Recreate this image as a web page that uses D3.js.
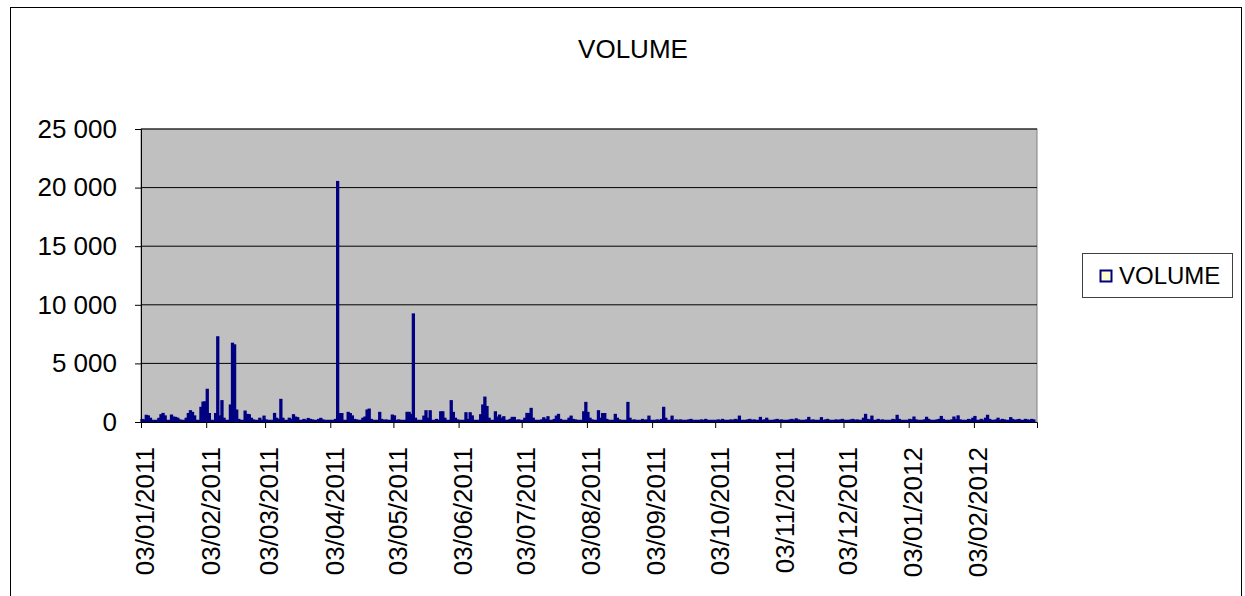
<!doctype html>
<html lang="en">

<head>
    <meta charset="utf-8">
    <script src="https://d3js.org/d3.v7.min.js"></script>
    <style>
        body { margin: 0; background: #fff; }
        text { font-family: "Liberation Sans", Arial, sans-serif; fill: #000; }
    </style>
</head>

<body>
    <div id="my_dataviz"></div>
    <script>
        // daily volume, one value per weekday of each month
        var vol2011_01 = [200, 150, 550, 500, 300, 100, 290, 600, 710, 500, 570, 400, 370, 300, 150, 300, 700, 940, 800, 500, 1230];
        var vol2011_02 = [1680, 1700, 2770, 700, 700, 7250, 500, 1800, 300, 1430, 6700, 6560, 1000, 200, 910, 630, 600, 300, 150, 300];
        var vol2011_03 = [100, 480, 150, 50, 710, 300, 200, 1910, 300, 300, 200, 600, 400, 350, 200, 100, 280, 200, 150, 200, 290, 150, 100];
        var vol2011_04 = [100, 100, 200, 20500, 700, 700, 800, 700, 500, 200, 150, 300, 400, 1000, 1080, 200, 0, 800, 200, 100, 150];
        var vol2011_05 = [570, 500, 100, 150, 100, 800, 800, 630, 9200, 300, 100, 480, 940, 300, 940, 200, 100, 850, 850, 300, 1800, 800];
        var vol2011_06 = [300, 150, 50, 770, 200, 770, 500, 100, 600, 1430, 2100, 1300, 300, 850, 400, 570, 300, 430, 200, 370, 370, 100];
        var vol2011_07 = [150, 300, 710, 700, 1140, 300, 100, 150, 340, 200, 430, 200, 480, 630, 200, 100, 300, 480, 200, 150, 100];
        var vol2011_08 = [850, 1650, 800, 300, 150, 940, 300, 700, 700, 200, 100, 630, 300, 150, 100, 1650, 300, 100, 150, 100, 200, 100, 150];
        var vol2011_09 = [480, 100, 150, 100, 200, 1230, 300, 480, 100, 150, 100, 150, 100, 150, 200, 100, 50, 150, 100, 200, 100, 50];
        var vol2011_10 = [100, 150, 100, 200, 100, 150, 100, 200, 150, 480, 100, 150, 200, 100, 150, 370, 100, 150, 300, 100, 150];
        var vol2011_11 = [200, 100, 150, 100, 150, 200, 100, 250, 150, 100, 150, 370, 100, 150, 100, 350, 100, 150, 200, 100, 150, 100];
        var vol2011_12 = [150, 200, 100, 150, 200, 100, 150, 300, 630, 200, 150, 480, 200, 100, 150, 100, 100, 200, 150, 550, 200, 100];
        var vol2012_01 = [100, 200, 150, 400, 150, 100, 150, 380, 200, 100, 150, 200, 450, 200, 100, 150, 400, 200, 500, 150, 100, 200];
        var vol2012_02 = [150, 300, 450, 200, 100, 300, 550, 200, 150, 300, 100, 200, 150, 350, 200, 100, 150, 200, 200, 150, 100];
        var vol2012_03 = [200, 150];

        var monthStarts = ["01/01/2011", "01/02/2011", "01/03/2011", "01/04/2011", "01/05/2011", "01/06/2011", "01/07/2011",
            "01/08/2011", "01/09/2011", "01/10/2011", "01/11/2011", "01/12/2011", "01/01/2012", "01/02/2012", "01/03/2012"];
        var monthValues = [vol2011_01, vol2011_02, vol2011_03, vol2011_04, vol2011_05, vol2011_06, vol2011_07,
            vol2011_08, vol2011_09, vol2011_10, vol2011_11, vol2011_12, vol2012_01, vol2012_02, vol2012_03];

        var xTickLabels = ["03/01/2011", "03/02/2011", "03/03/2011", "03/04/2011", "03/05/2011", "03/06/2011", "03/07/2011",
            "03/08/2011", "03/09/2011", "03/10/2011", "03/11/2011", "03/12/2011", "03/01/2012", "03/02/2012"];
        var yTicks = [0, 5000, 10000, 15000, 20000, 25000];
        var yTickLabels = ["0", "5 000", "10 000", "15 000", "20 000", "25 000"];

        var parse = d3.timeParse("%d/%m/%Y");

        // pair each value with its weekday date
        var data = [];
        monthStarts.forEach(function (m, i) {
            var start = parse(m);
            var end = d3.timeMonth.offset(start, 1);
            var days = d3.timeDay.range(start, end).filter(function (d) { return d.getDay() != 0 && d.getDay() != 6; });
            monthValues[i].forEach(function (v, j) {
                if (j < days.length) data.push({ date: days[j], value: v });
            });
        });

        var W = 1245, H = 596;
        var margin = { top: 129, right: 208, bottom: 174, left: 141 },
            width = W - margin.left - margin.right,
            height = H - margin.top - margin.bottom;

        var svg = d3.select("#my_dataviz")
            .append("svg")
            .attr("width", W)
            .attr("height", H);

        // chart frame
        svg.append("rect")
            .attr("x", 10.5).attr("y", 7.5)
            .attr("width", 1231).attr("height", 600)
            .attr("fill", "#fff").attr("stroke", "#000").attr("stroke-width", 1);

        svg.append("text")
            .attr("x", 633).attr("y", 58)
            .style("text-anchor", "middle")
            .style("font-size", "26px")
            .text("VOLUME");

        var g = svg.append("g")
            .attr("transform", "translate(" + margin.left + "," + margin.top + ")");

        var x = d3.scaleTime()
            .domain([parse("03/01/2011"), parse("04/03/2012")])
            .range([0, width]);
        var y = d3.scaleLinear()
            .domain([0, 25000])
            .range([height, 0]);

        // plot area
        g.append("rect")
            .attr("width", width).attr("height", height)
            .attr("fill", "#c0c0c0").attr("stroke", "#808080");

        // gridlines
        g.selectAll(".grid")
            .data(yTicks.slice(1))
            .enter().append("line")
            .attr("x1", 0).attr("x2", width)
            .attr("y1", function (d) { return y(d); })
            .attr("y2", function (d) { return y(d); })
            .attr("stroke", "#000").attr("stroke-width", 1);

        // bars
        var dayW = x(d3.timeDay.offset(parse("03/01/2011"), 1)) - x(parse("03/01/2011"));
        g.selectAll(".bar")
            .data(data.filter(function (d) { return d.value > 0; }))
            .enter().append("rect")
            .attr("x", function (d) { return x(d.date) + dayW * 0.1; })
            .attr("width", dayW * 0.8)
            .attr("y", function (d) { return y(d.value); })
            .attr("height", function (d) { return height - y(d.value); })
            .attr("fill", "#000080")
            .attr("stroke", "#000080").attr("stroke-width", 1.6);

        // zero-height bars along the base
        g.append("line")
            .attr("x1", x(data[0].date)).attr("x2", x(data[data.length - 1].date) + dayW)
            .attr("y1", y(0) - 1).attr("y2", y(0) - 1)
            .attr("stroke", "#000080").attr("stroke-width", 2.5);

        // Y axis
        var yAxis = g.append("g")
            .call(d3.axisLeft(y).tickValues(yTicks).tickSize(6).tickPadding(18)
                .tickFormat(function (d, i) { return yTickLabels[i]; }));
        yAxis.select(".domain").attr("stroke", "#000");
        yAxis.selectAll("text").style("font-size", "26px").attr("fill", "#000");

        // X axis
        var xAxis = g.append("g")
            .attr("transform", "translate(0," + height + ")")
            .call(d3.axisBottom(x).tickValues(xTickLabels.map(parse)).tickSize(6)
                .tickFormat(function (d, i) { return xTickLabels[i]; }));
        xAxis.select(".domain").attr("stroke", "#000");
        xAxis.selectAll("text")
            .style("font-size", "26px")
            .style("text-anchor", "end")
            .attr("fill", "#000")
            .attr("transform", "rotate(-90)")
            .attr("x", -25)
            .attr("y", 3)
            .attr("dy", "0.38em");

        // legend
        var lg = svg.append("g");
        lg.append("rect")
            .attr("x", 1082.5).attr("y", 253.5).attr("width", 150).attr("height", 44)
            .attr("fill", "#fff").attr("stroke", "#404040");
        lg.append("rect")
            .attr("x", 1100.5).attr("y", 270.5).attr("width", 11).attr("height", 11)
            .attr("fill", "#ffffcc").attr("stroke", "#000080").attr("stroke-width", 2);
        lg.append("text")
            .attr("x", 1119).attr("y", 284)
            .style("font-size", "24px")
            .text("VOLUME");
    </script>
</body>

</html>
